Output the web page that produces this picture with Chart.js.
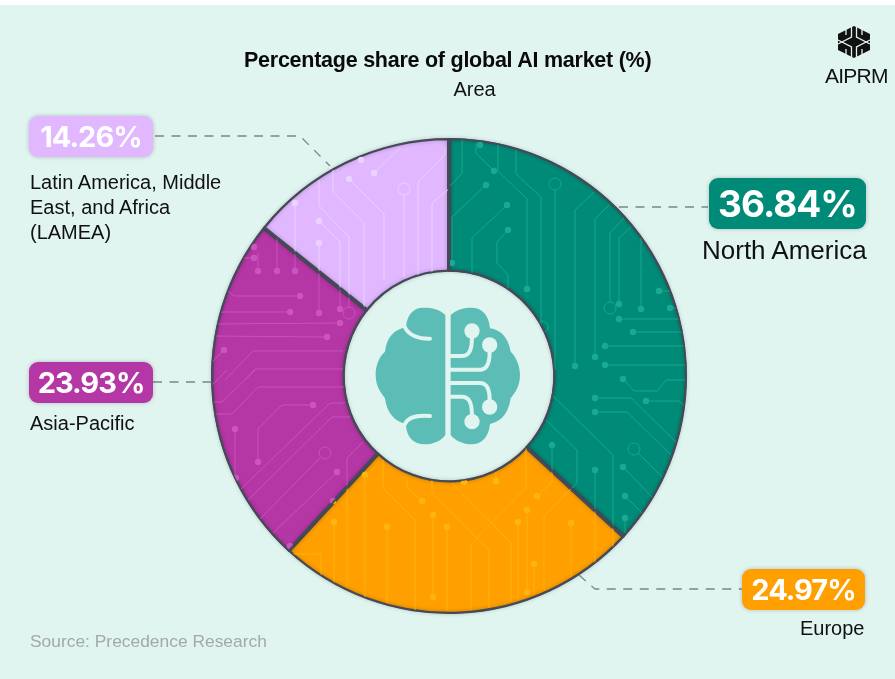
<!DOCTYPE html>
<html>
<head>
<meta charset="utf-8">
<title>Percentage share of global AI market</title>
<script src="https://cdn.jsdelivr.net/npm/chart.js@4"></script>
<style>
html, body { margin: 0; padding: 0; background: #e0f4f0; }
body { position: relative; width: 895px; height: 679px; overflow: hidden; font-family: "Liberation Sans", Arial, sans-serif; color: #111; }
#topStrip { position: absolute; left: 0; top: 0; width: 895px; height: 5px; background: #fff; }
canvas, svg { position: absolute; left: 0; top: 0; }
.txt { position: absolute; white-space: nowrap; }
#title { left: 244px; top: 47px; width: 407px; text-align: center; font-size: 21.5px; font-weight: 700; line-height: 26px; letter-spacing: -0.25px; color: #0a0a0a; }
#subtitle { left: 374px; width: 201px; top: 77px; text-align: center; font-size: 20px; line-height: 24px; }
#source { left: 30px; top: 630px; font-size: 17.4px; line-height: 22px; color: #a3a9a8; }
#brand { left: 825px; top: 64px; font-size: 21px; line-height: 24px; letter-spacing: -0.75px; color: #111; }
.badge { position: absolute; border-radius: 9px; color: #fff; font-family: Inter, "Liberation Sans", sans-serif; font-weight: 700; text-align: center; box-shadow: 0 0 4px rgba(0,0,0,.22); }
.label { position: absolute; white-space: pre-line; color: #111; }
</style>
</head>
<body>
<div id="topStrip"></div>
<canvas id="shareChart" width="895" height="679"></canvas>

<!-- brain in the hole of the doughnut -->
<svg width="895" height="679" viewBox="0 0 895 679">
  <g transform="translate(340 270) scale(0.3333)">
    <path fill="#5bbdb5" d="M316 135 C300 118 275 113 250 113 C220 113 200 135 198 172 C165 178 140 200 135 245 C115 262 107 290 107 315 C107 345 120 365 135 385 C140 430 165 455 198 462 C198 500 220 523 255 523 C280 523 305 512 316 495 Z"/>
    <path fill="#5bbdb5" d="M332 135 C350 118 375 113 395 113 C425 113 447 135 450 175 C485 180 505 205 512 245 C530 262 540 290 540 315 C540 345 528 365 512 385 C505 430 485 455 450 462 C447 500 425 523 395 523 C370 523 345 512 332 495 Z"/>
    <g fill="none" stroke="#e0f4f0" stroke-width="12" stroke-linecap="round">
      <path d="M195 172 C205 195 235 207 270 206"/>
      <path d="M195 462 C205 440 235 435 270 438"/>
      <path d="M332 258 H365 C388 258 396 240 396 200"/>
      <path d="M332 299 H420 C440 299 449 280 449 245"/>
      <path d="M332 339 H420 C440 339 449 358 449 390"/>
      <path d="M332 380 H365 C388 380 396 398 396 440"/>
    </g>
    <g fill="#e0f4f0">
      <circle cx="396" cy="183" r="23"/>
      <circle cx="449" cy="225" r="23"/>
      <circle cx="449" cy="411" r="23"/>
      <circle cx="396" cy="455" r="23"/>
    </g>
  </g>
  <!-- AIPRM mark -->
  <g transform="translate(854 42)">
    <path fill="#111" d="M0 -16 L16 -8 L16 8 L0 16 L-16 8 L-16 -8 Z"/>
    <g fill="none" stroke="#e0f4f0" stroke-width="1.3">
      <path d="M-2.5 -16 V-5 L-16 2"/>
      <path d="M2.5 -16 V-5 L16 2"/>
      <path d="M-16 -2 L-2.5 5 V16"/>
      <path d="M16 -2 L2.5 5 V16"/>
      <path d="M-8 -15 V-7 M8 -15 V-7 M-8 15 V7 M8 15 V7"/>
    </g>
  </g>
</svg>

<div class="txt" id="title"></div>
<div class="txt" id="subtitle"></div>
<div class="txt" id="source"></div>
<div class="txt" id="brand">AIPRM</div>

<script>
// chart data
const titleText = 'Percentage share of global AI market (%)';
const subtitleText = 'Area';
const sourceText = 'Source: Precedence Research';
const categories = ['North America', 'Europe', 'Asia-Pacific', 'Latin America, Middle\nEast, and Africa\n(LAMEA)'];
const shares = [36.84, 24.97, 23.93, 14.26];
const sliceColors = ['#008b78', '#ff9f00', '#b536a5', '#e1b8ff'];
const traceColors = ['#18aa93', '#ffb60c', '#cb55bf', '#ebd2ff'];

// callout boxes, same order as categories
const badgeBoxes = [
    {x: 709, y: 178, w: 157, h: 51, font: 37, labelX: 702, labelY: 234, labelFont: 26, labelAlign: 'left'},
    {x: 742, y: 569, w: 123, h: 41, font: 29, labelX: 800, labelY: 616, labelFont: 20, labelAlign: 'left'},
    {x: 29, y: 362, w: 124, h: 41, font: 29, labelX: 30, labelY: 411, labelFont: 20, labelAlign: 'left'},
    {x: 29, y: 116, w: 124, h: 41, font: 29, labelX: 30, labelY: 170, labelFont: 20, labelAlign: 'left'}
];

// dashed leader lines
const leaders = [
    [[619, 207], [708, 207]],
    [[579, 575], [595, 589], [742, 589]],
    [[153, 382], [212, 382]],
    [[155, 136], [300, 136], [330, 166]]
];

// circuit pattern printed on the ring, decoration only
const traces = [
    [[462,140],[462,173],[449,187]], [[476,143],[476,153],[494,171]],
    [[498,145],[498,171],[527,199],[527,289]], [[516,150],[516,174],[541,197],[541,330]],
    [[555,190],[555,370]], [[594,192],[575,210],[575,366]], [[609,205],[595,219],[595,357]],
    [[624,218],[610,233],[610,302]], [[631,227],[619,238],[619,304]], [[641,238],[641,309]],
    [[659,291],[672,291]], [[670,308],[685,308]], [[619,319],[685,319]], [[633,332],[685,332]],
    [[605,346],[685,346]], [[605,365],[685,365]],
    [[486,185],[452,217],[452,263]], [[507,205],[472,238],[472,273]],
    [[508,230],[497,242],[497,263],[508,275],[508,288]],
    [[623,379],[634,391],[657,391],[666,380],[686,380]],
    [[595,398],[631,398],[676,442]], [[646,401],[679,401],[686,407]],
    [[595,412],[627,412],[671,455]], [[552,395],[613,455],[613,547]],
    [[546,420],[577,450],[577,483],[544,516],[544,590]], [[552,445],[552,482],[537,496]],
    [[595,470],[595,570]], [[638,453],[662,477]], [[623,467],[652,497]], [[625,496],[642,513]],
    [[625,518],[625,533]],
    [[526,448],[526,488],[471,544],[471,610]], [[496,472],[496,481]],
    [[452,483],[511,543],[511,602]], [[449,510],[489,550],[489,608]],
    [[527,510],[527,592]], [[518,522],[518,600]], [[534,564],[534,593]], [[571,523],[571,577]],
    [[383,460],[383,488],[415,520],[415,610]], [[407,477],[407,487],[422,501]],
    [[432,480],[432,493],[449,510]], [[365,475],[365,597]], [[433,515],[433,597]],
    [[447,527],[447,610]], [[387,527],[387,603]], [[334,522],[334,583]],
    [[363,442],[347,458],[347,587]], [[292,554],[321,554],[321,577]],
    [[212,414],[232,414],[258,387],[345,387]], [[212,402],[222,402],[255,370]], [[212,385],[227,370]],
    [[313,405],[282,405],[258,429],[258,462]], [[235,429],[235,477]],
    [[240,490],[330,403],[345,403]], [[248,500],[332,417],[350,417]],
    [[260,519],[320,458]], [[273,533],[337,472]],
    [[254,258],[243,258]], [[258,271],[258,253]], [[277,271],[277,237]], [[295,271],[295,203]],
    [[228,291],[234,296],[300,296]], [[212,312],[290,312]], [[212,324],[340,323]], [[212,336],[327,337]],
    [[224,350],[212,362]], [[225,380],[253,351],[343,351]], [[245,380],[255,369],[343,369]],
    [[319,313],[319,243]], [[340,309],[340,242],[319,221]], [[349,307],[349,237],[319,206],[319,180]],
    [[400,148],[374,173]], [[349,179],[384,214],[384,280]], [[333,170],[333,192],[364,223],[364,310]],
    [[404,195],[404,277]], [[445,147],[445,155],[418,182],[418,277]], [[450,188],[432,203],[432,273]]
];
const traceDots = [
    [494,171],[480,145],[527,289],[575,366],[595,357],[619,304],[641,309],[659,291],[670,308],[619,319],
    [633,332],[605,346],[605,365],[486,185],[507,205],[508,230],[452,263],[623,379],[595,398],[646,401],
    [595,412],[552,445],[595,470],[623,467],[625,496],[625,518],[537,496],[496,481],[464,482],[527,510],
    [527,592],[518,522],[534,564],[571,523],[422,501],[365,475],[433,515],[433,597],[447,527],[387,527],
    [334,522],[313,405],[258,462],[235,429],[236,478],[337,472],[333,501],[290,546],[254,247],[254,258],
    [258,271],[277,271],[295,271],[295,203],[300,296],[290,312],[340,323],[327,337],[224,350],[319,313],
    [319,243],[340,309],[319,221],[374,173],[349,179],[361,160]
];
const traceRings = [[555,184],[610,308],[542,327],[634,449],[325,453],[349,313],[404,189]];

const circuitPlugin = {
    id: 'circuit',
    beforeDatasetsDraw(chart) {
        // soft glow round the ring
        chart.ctx.save();
        chart.ctx.shadowColor = 'rgba(0,0,0,0.22)';
        chart.ctx.shadowBlur = 4;
    },
    afterDatasetsDraw(chart) {
        const ctx = chart.ctx;
        ctx.restore();
        chart.getDatasetMeta(0).data.forEach((arc, i) => {
            ctx.save();
            ctx.beginPath();
            ctx.arc(arc.x, arc.y, arc.outerRadius - 1.5, arc.startAngle, arc.endAngle);
            ctx.arc(arc.x, arc.y, arc.innerRadius + 1.5, arc.endAngle, arc.startAngle, true);
            ctx.closePath();
            ctx.clip();
            ctx.strokeStyle = traceColors[i];
            ctx.fillStyle = traceColors[i];
            ctx.lineWidth = 0.9;
            traces.forEach(t => {
                ctx.beginPath();
                t.forEach((p, k) => k ? ctx.lineTo(p[0], p[1]) : ctx.moveTo(p[0], p[1]));
                ctx.stroke();
            });
            traceDots.forEach(d => {
                ctx.beginPath();
                ctx.arc(d[0], d[1], 3.2, 0, Math.PI * 2);
                ctx.fill();
            });
            traceRings.forEach(r => {
                ctx.beginPath();
                ctx.arc(r[0], r[1], 6, 0, Math.PI * 2);
                ctx.stroke();
            });
            ctx.restore();
        });
        // slices borders again, so the pattern stays under them
        chart.getDatasetMeta(0).data.forEach(arc => {
            ctx.save();
            ctx.strokeStyle = '#444a58';
            ctx.lineWidth = 2;
            ctx.beginPath();
            ctx.moveTo(arc.x + arc.innerRadius * Math.cos(arc.startAngle), arc.y + arc.innerRadius * Math.sin(arc.startAngle));
            ctx.lineTo(arc.x + arc.outerRadius * Math.cos(arc.startAngle), arc.y + arc.outerRadius * Math.sin(arc.startAngle));
            ctx.stroke();
            ctx.restore();
        });
        // leader lines
        ctx.save();
        ctx.strokeStyle = '#7f8484';
        ctx.lineWidth = 1.3;
        ctx.setLineDash([9, 7.5]);
        leaders.forEach(l => {
            ctx.beginPath();
            l.forEach((p, k) => k ? ctx.lineTo(p[0], p[1]) : ctx.moveTo(p[0], p[1]));
            ctx.stroke();
        });
        ctx.restore();
    }
};

const myChart = new Chart(document.getElementById('shareChart'), {
    type: 'doughnut',
    data: {
        labels: categories,
        datasets: [{
            data: shares,
            backgroundColor: sliceColors,
            borderColor: '#444a58',
            borderWidth: 2,
            borderAlign: 'inner'
        }]
    },
    options: {
        responsive: false,
        animation: false,
        cutout: '43.8%',
        rotation: 0,
        layout: { padding: { left: 211, right: 208, top: 138, bottom: 65 } },
        plugins: { legend: { display: false }, tooltip: { enabled: false }, title: { display: false } }
    },
    plugins: [circuitPlugin]
});

// text
document.getElementById('title').textContent = titleText;
document.getElementById('subtitle').textContent = subtitleText;
document.getElementById('source').textContent = sourceText;

categories.forEach((name, i) => {
    const b = badgeBoxes[i];
    const badge = document.createElement('div');
    badge.className = 'badge';
    badge.style.cssText = `left:${b.x}px;top:${b.y}px;width:${b.w}px;height:${b.h}px;line-height:${b.h}px;font-size:${b.font}px;letter-spacing:-1px;background:${sliceColors[i]};`;
    badge.textContent = shares[i].toFixed(2) + '%';
    document.body.appendChild(badge);

    const label = document.createElement('div');
    label.className = 'label';
    label.style.cssText = `left:${b.labelX}px;top:${b.labelY}px;font-size:${b.labelFont}px;line-height:${Math.round(b.labelFont * 1.25)}px;text-align:${b.labelAlign};`;
    label.textContent = name;
    document.body.appendChild(label);
});
</script>
</body>
</html>
